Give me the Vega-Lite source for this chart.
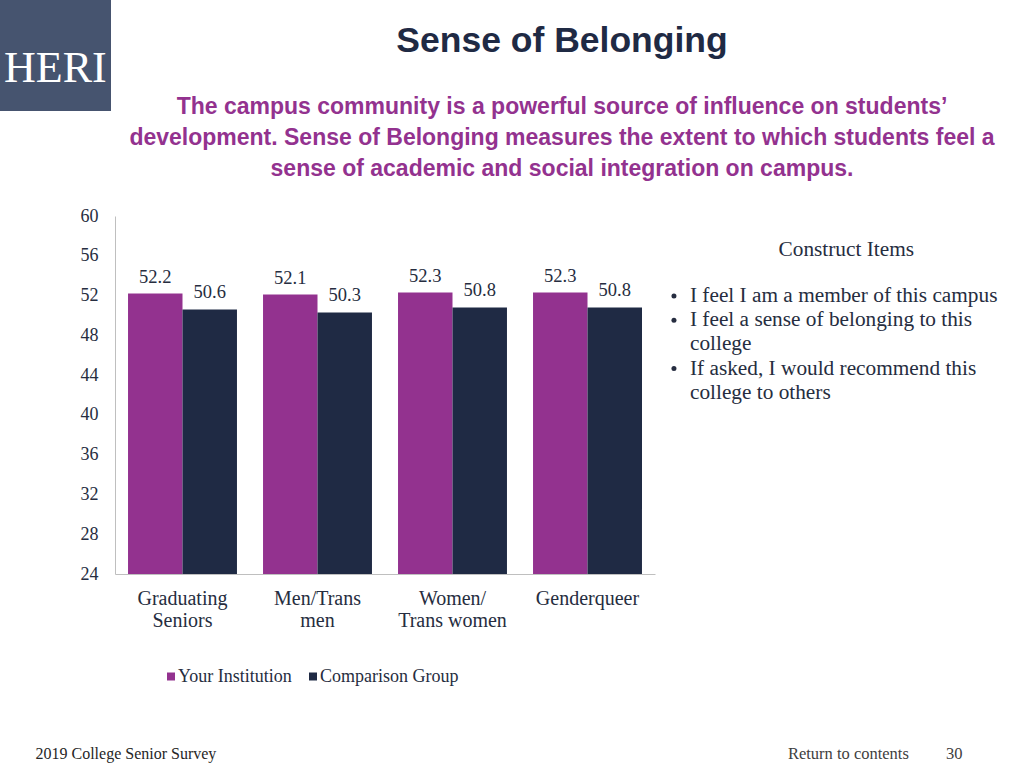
{
  "$schema": "https://vega.github.io/schema/vega-lite/v6.json",
  "width": 540,
  "height": 358,
  "autosize": {"type": "none"},
  "padding": {"left": 115, "top": 216, "right": 369, "bottom": 194},
  "background": "white",
  "config": {"view": {"stroke": null}, "axis": {"labelOverlap": false}, "axisY": {"labelOverlap": false}},
  "datasets": {
    "scores": [
      {"group": "Graduating Seniors", "series": "Your Institution", "value": 52.2},
      {"group": "Graduating Seniors", "series": "Comparison Group", "value": 50.6},
      {"group": "Men/Trans men", "series": "Your Institution", "value": 52.1},
      {"group": "Men/Trans men", "series": "Comparison Group", "value": 50.3},
      {"group": "Women/ Trans women", "series": "Your Institution", "value": 52.3},
      {"group": "Women/ Trans women", "series": "Comparison Group", "value": 50.8},
      {"group": "Genderqueer", "series": "Your Institution", "value": 52.3},
      {"group": "Genderqueer", "series": "Comparison Group", "value": 50.8}
    ],
    "items": [
      {"line": "I feel I am a member of this campus"},
      {"line": "I feel a sense of belonging to this"},
      {"line": "college"},
      {"line": "If asked, I would recommend this"},
      {"line": "college to others"}
    ],
    "brand": [{"org": "HERI"}]
  },
  "title": {
    "text": "Sense of Belonging",
    "subtitle": [
      "The campus community is a powerful source of influence on students’",
      "development. Sense of Belonging measures the extent to which students feel a",
      "sense of academic and social integration on campus."
    ],
    "orient": "top",
    "anchor": "middle",
    "frame": "group",
    "dx": 177,
    "offset": -181,
    "font": "Liberation Sans",
    "fontSize": 35.5,
    "fontWeight": "bold",
    "color": "#1f2a44",
    "subtitleFont": "Liberation Sans",
    "subtitleFontSize": 23,
    "subtitleFontWeight": "bold",
    "subtitleColor": "#93328f",
    "subtitleLineHeight": 31,
    "subtitlePadding": 37
  },
  "layer": [
    {
      "data": {"name": "scores"},
      "mark": {"type": "bar"},
      "encoding": {
        "x": {
          "field": "group",
          "type": "nominal",
          "sort": null,
          "scale": {"paddingInner": 0.193, "paddingOuter": 0.0965},
          "axis": {
            "title": "2019 College Senior Survey",
            "titleX": -80,
            "titleY": 179,
            "titleAlign": "left",
            "titleBaseline": "middle",
            "titleFont": "Liberation Serif",
            "titleFontSize": 16,
            "titleFontWeight": "normal",
            "titleColor": "#262626",
            "labelAngle": 0,
            "labelExpr": "datum.value == 'Graduating Seniors' ? ['Graduating', 'Seniors'] : datum.value == 'Men/Trans men' ? ['Men/Trans', 'men'] : datum.value == 'Women/ Trans women' ? ['Women/', 'Trans women'] : datum.label",
            "labelFont": "Liberation Serif",
            "labelFontSize": 20,
            "labelColor": "#262d40",
            "labelLineHeight": 22,
            "labelPadding": 14,
            "labelLimit": 0,
            "ticks": false,
            "tickSize": 0,
            "domainColor": "#bfbfbf",
            "domainWidth": 1,
            "grid": false
          }
        },
        "xOffset": {
          "field": "series",
          "type": "nominal",
          "sort": ["Your Institution", "Comparison Group"],
          "scale": {"paddingInner": 0, "paddingOuter": 0}
        },
        "y": {
          "field": "value",
          "type": "quantitative",
          "scale": {"domain": [24, 60], "zero": false, "nice": false, "clamp": true},
          "axis": {
            "values": [24, 28, 32, 36, 40, 44, 48, 52, 56, 60],
            "labelOverlap": false,
            "labelBound": false,
            "labelFlush": false,
            "title": "Return to contents\u00a0\u00a0\u00a0\u00a0\u00a0\u00a0\u00a0\u00a0\u00a030",
            "titleAngle": 0,
            "titleX": 847,
            "titleY": 537,
            "titleAlign": "right",
            "titleBaseline": "middle",
            "titleFont": "Liberation Serif",
            "titleFontSize": 16.5,
            "titleFontWeight": "normal",
            "titleColor": "#404040",
            "titleLimit": 0,
            "labelFont": "Liberation Serif",
            "labelFontSize": 18,
            "labelColor": "#262d40",
            "labelPadding": 17,
            "ticks": false,
            "tickSize": 0,
            "domainColor": "#bfbfbf",
            "domainWidth": 1,
            "grid": false
          }
        },
        "color": {
          "field": "series",
          "type": "nominal",
          "scale": {"domain": ["Your Institution", "Comparison Group"], "range": ["#93328f", "#1f2a44"]},
          "legend": {
            "orient": "none",
            "legendX": 47,
            "legendY": 451.5,
            "direction": "horizontal",
            "title": null,
            "symbolType": "square",
            "symbolSize": 64,
            "symbolStrokeWidth": 0,
            "labelFont": "Liberation Serif",
            "labelFontSize": 18,
            "labelColor": "#262d40",
            "labelOffset": -2,
            "columnPadding": 12,
            "padding": 0
          }
        }
      }
    },
    {
      "data": {"name": "scores"},
      "mark": {"type": "text", "baseline": "middle", "dy": -17, "font": "Liberation Serif", "fontSize": 18.5, "color": "#262d40"},
      "encoding": {
        "x": {"field": "group", "type": "nominal", "sort": null},
        "xOffset": {"field": "series", "type": "nominal", "sort": ["Your Institution", "Comparison Group"]},
        "y": {"field": "value", "type": "quantitative", "axis": {"labelOverlap": false, "values": [24, 28, 32, 36, 40, 44, 48, 52, 56, 60]}},
        "text": {"field": "value", "type": "quantitative", "format": ".1f"}
      }
    },
    {
      "data": {"name": "items"},
      "mark": {"type": "point", "opacity": 0, "filled": true, "color": "#262d40"},
      "encoding": {
        "shape": {
          "field": "line",
          "type": "nominal",
          "sort": null,
          "scale": {"range": ["circle", "circle", "M0,0", "circle", "M0,0"]},
          "legend": {
            "orient": "none",
            "legendX": 548.3,
            "legendY": 22.5,
            "title": "\u200b\u00a0\u00a0\u00a0\u00a0\u00a0\u00a0Construct Items",
            "titleAnchor": "middle",
            "titleFont": "Liberation Serif",
            "titleFontSize": 21.3,
            "titleFontWeight": "normal",
            "titleColor": "#262d40",
            "titlePadding": 25.5,
            "titleLimit": 0,
            "labelFont": "Liberation Serif",
            "labelFontSize": 21.3,
            "labelColor": "#262d40",
            "labelOffset": 5.35,
            "labelLimit": 0,
            "rowPadding": 2.2,
            "symbolSize": 25,
            "symbolFillColor": "#262d40",
            "symbolStrokeColor": "#262d40",
            "symbolStrokeWidth": 0,
            "symbolOpacity": 1,
            "padding": 0
          }
        }
      }
    },
    {
      "data": {"name": "brand"},
      "mark": {"type": "point", "opacity": 0, "filled": true},
      "encoding": {
        "fill": {
          "field": "org",
          "type": "nominal",
          "scale": {"range": ["#46546f"]},
          "legend": {
            "orient": "none",
            "legendX": -115,
            "legendY": -216,
            "title": ["", "HERI"],
            "titleFont": "Liberation Serif",
            "titleFontSize": 44,
            "titleFontWeight": "normal",
            "titleColor": "#ffffff",
            "titleLineHeight": 43,
            "titlePadding": 8,
            "titleAnchor": "start",
            "fillColor": "#46546f",
            "padding": 4,
            "labelExpr": "''",
            "labelFontSize": 8,
            "symbolSize": 64,
            "symbolOpacity": 0,
            "symbolStrokeWidth": 0
          }
        }
      }
    }
  ]
}
